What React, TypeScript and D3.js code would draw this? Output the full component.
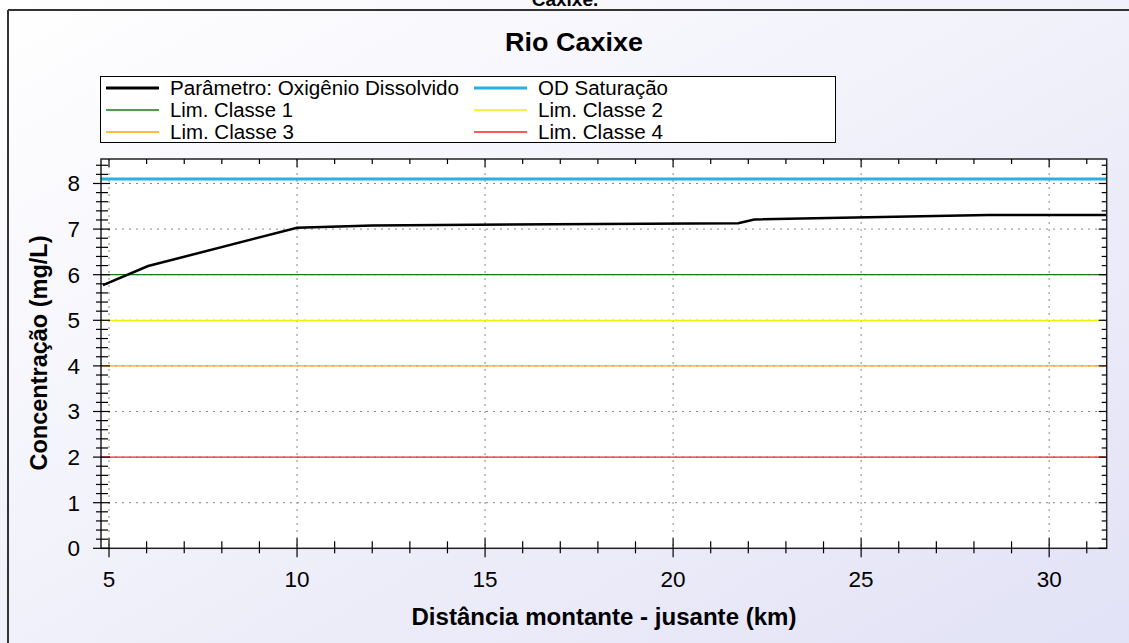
import React from "react";
import * as d3 from "d3";

const distKm = [4.84, 6.04, 10.0, 12.0, 21.73, 22.16, 28.38, 31.53];
const odValues = [5.77, 6.19, 7.03, 7.08, 7.13, 7.21, 7.31, 7.31];
const satValue = 8.1;
const limits = [
  { name: "Lim. Classe 1", value: 6, color: "#1a7a1a" },
  { name: "Lim. Classe 2", value: 5, color: "#f2f200" },
  { name: "Lim. Classe 3", value: 4, color: "#ffa500" },
  { name: "Lim. Classe 4", value: 2, color: "#ff2020" },
];
const xTicks = [5, 10, 15, 20, 25, 30];
const yTicks = [0, 1, 2, 3, 4, 5, 6, 7, 8];

const W = 1129;
const H = 643;
const L = 101, R = 1106.7, T = 159, B = 548.3;
const FONT = "'Liberation Sans', Arial, sans-serif";

export default function App() {
  const x = d3.scaleLinear().domain([4.787, 31.53]).range([L, R]);
  const y = d3.scaleLinear().domain([0, 8.537]).range([B, T]);
  const line = d3.line<number>().x((_, i) => x(distKm[i])).y((d) => y(d));
  const xMinor = d3.range(5, 32, 1).filter((v) => x(v) <= R);
  const yMinor = d3.range(0, 8.55, 0.2);

  const legendItems = [
    { name: "Parâmetro: Oxigênio Dissolvido", color: "#000", w: 3, tl: 289 },
    { name: "OD Saturação", color: "#29b0e0", w: 3, tl: 130 },
    { name: limits[0].name, color: limits[0].color, w: 1.3, tl: 123 },
    { name: limits[1].name, color: limits[1].color, w: 1.3, tl: 125 },
    { name: limits[2].name, color: limits[2].color, w: 1.3, tl: 124 },
    { name: limits[3].name, color: limits[3].color, w: 1.3, tl: 125 },
  ];

  return (
    <svg width={W} height={H} style={{ position: "absolute", left: 0, top: 0 }} fontFamily={FONT}>
      <defs>
        <linearGradient id="bg" x1="0" y1="0" x2="1" y2="1">
          <stop offset="0%" stopColor="#ffffff" />
          <stop offset="100%" stopColor="#e2e2f6" />
        </linearGradient>
        <clipPath id="plotclip">
          <rect x={L} y={T} width={R - L} height={B - T} />
        </clipPath>
      </defs>
      <rect x={0} y={0} width={W} height={H} fill="url(#bg)" />
      <text x={565} y={6} textAnchor="middle" fontSize={19} fontWeight="bold">Caxixe.</text>
      <line x1={8} y1={10} x2={W} y2={10} stroke="#333" strokeWidth={2} />
      <line x1={8} y1={10} x2={8} y2={H} stroke="#333" strokeWidth={2} />

      <text x={505} y={51} fontSize={25} fontWeight="bold" textLength={138} lengthAdjust="spacingAndGlyphs">Rio Caxixe</text>

      {/* legend */}
      <rect x={100.5} y={76.5} width={735} height={66} fill="#fff" stroke="#000" strokeWidth={1} />
      {legendItems.map((it, i) => {
        const col = i % 2;
        const row = Math.floor(i / 2);
        const lx = col === 0 ? 106 : 474;
        const ly = 88 + row * 22;
        return (
          <g key={it.name}>
            <line x1={lx} x2={lx + 53} y1={ly} y2={ly} stroke={it.color} strokeWidth={it.w} />
            <text x={lx + 64} y={ly + 7} fontSize={19.5} textLength={it.tl} lengthAdjust="spacingAndGlyphs">{it.name}</text>
          </g>
        );
      })}

      {/* plot area */}
      <rect x={L} y={T} width={R - L} height={B - T} fill="#fff" />
      {/* grid */}
      {xTicks.map((v) => (
        <line key={"gx" + v} x1={x(v)} x2={x(v)} y1={T} y2={B} stroke="#888" strokeWidth={1} strokeDasharray="2,5" />
      ))}
      {yTicks.filter((v) => v > 0).map((v) => (
        <line key={"gy" + v} x1={L} x2={R} y1={y(v)} y2={y(v)} stroke="#888" strokeWidth={1} strokeDasharray="2,5" />
      ))}

      <g clipPath="url(#plotclip)">
        {limits.map((l) => (
          <line key={l.name} x1={L} x2={R} y1={y(l.value)} y2={y(l.value)} stroke={l.color} strokeWidth={1.3} />
        ))}
        <line x1={L} x2={R} y1={y(satValue)} y2={y(satValue)} stroke="#29b0e0" strokeWidth={3} />
        <path d={line(odValues) || ""} fill="none" stroke="#000" strokeWidth={2.5} />
      </g>

      {/* frame */}
      <rect x={L} y={T} width={R - L} height={B - T} fill="none" stroke="#222" strokeWidth={1.5} />

      {/* x ticks */}
      {xMinor.map((v) => {
        const major = v % 5 === 0;
        return (
          <g key={"xt" + v}>
            <line x1={x(v)} x2={x(v)} y1={major ? B - 10 : B - 7} y2={major ? B + 9 : B + 5} stroke="#000" strokeWidth={1.2} />
            <line x1={x(v)} x2={x(v)} y1={T} y2={major ? T + 8 : T + 5} stroke="#000" strokeWidth={1.2} />
          </g>
        );
      })}
      {xTicks.map((v) => (
        <text key={"xl" + v} x={x(v)} y={587} textAnchor="middle" fontSize={22.5}>{v}</text>
      ))}

      {/* y ticks */}
      {yMinor.map((v, i) => {
        const major = i % 5 === 0;
        return (
          <g key={"yt" + i}>
            <line x1={major ? L - 8 : L - 5} x2={major ? L + 9 : L + 7} y1={y(v)} y2={y(v)} stroke="#000" strokeWidth={1.2} />
            <line x1={R} x2={major ? R - 8 : R - 5} y1={y(v)} y2={y(v)} stroke="#000" strokeWidth={1.2} />
          </g>
        );
      })}
      {yTicks.map((v) => (
        <text key={"yl" + v} x={80} y={y(v) + 8} textAnchor="end" fontSize={22.5}>{v}</text>
      ))}

      <text x={604} y={625} textAnchor="middle" fontSize={23.5} fontWeight="bold" textLength={385} lengthAdjust="spacingAndGlyphs">Distância montante - jusante (km)</text>
      <text transform={`translate(47,353) rotate(-90)`} textAnchor="middle" fontSize={23.5} fontWeight="bold">Concentração (mg/L)</text>
    </svg>
  );
}
